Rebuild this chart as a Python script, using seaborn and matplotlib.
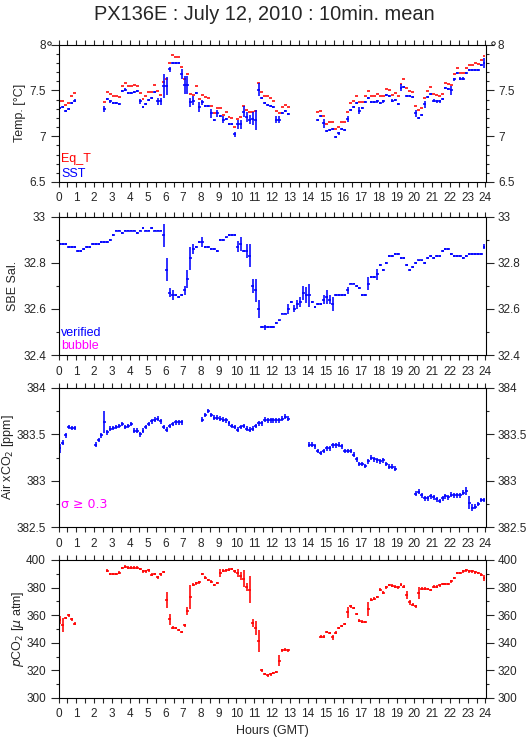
import numpy as np
import matplotlib
matplotlib.use('Agg')
import matplotlib.pyplot as plt
import seaborn as sns
from matplotlib.ticker import MultipleLocator, FuncFormatter
from matplotlib.lines import Line2D

nan = np.nan

# 10-minute means, one row per hour (6 slots each)
sst = [
    7.31, 7.32, 7.28, 7.30, 7.36, 7.39,
    nan, nan, nan, nan, nan, nan,
    nan, nan, nan, 7.30, 7.41, 7.38,
    7.36, 7.36, 7.35, 7.49, 7.51, 7.47,
    7.47, 7.48, 7.49, 7.38, 7.32, 7.35,
    7.40, 7.42, 7.48, 7.38, 7.38, 7.55,
    7.55, 7.73, 7.80, 7.80, 7.80, 7.68,
    7.56, 7.56, 7.37, 7.39, 7.47, 7.32,
    7.37, 7.33, 7.33, 7.25, 7.18, 7.25,
    7.22, 7.18, 7.19, 7.13, 7.13, 7.02,
    7.13, 7.13, 7.27, 7.21, 7.18, 7.19,
    7.18, 7.51, 7.42, 7.36, 7.34, 7.33,
    7.32, 7.18, 7.18, 7.25, 7.28, 7.24,
    nan, nan, nan, nan, nan, nan,
    nan, nan, nan, 7.18, 7.22, 7.14,
    7.06, 7.07, 7.08, 6.99, 7.03, 7.08,
    7.07, 7.19, 7.29, 7.32, 7.36, 7.28,
    7.31, 7.37, 7.42, 7.37, 7.37, 7.38,
    7.36, 7.38, 7.45, 7.44, 7.39, 7.40,
    7.35, 7.53, 7.54, 7.44, 7.44, 7.43,
    7.25, 7.20, 7.23, 7.35, 7.43, 7.46,
    7.39, 7.38, 7.38, 7.41, 7.53, 7.52,
    7.50, 7.62, 7.69, 7.63, 7.63, 7.69,
    7.72, 7.72, 7.72, 7.72, 7.78, 7.80,
]
sst_err_big = {15: 0.03, 27: 0.03, 33: 0.04, 34: 0.04, 35: 0.13, 36: 0.1, 37: 0.03,
               41: 0.05, 42: 0.1, 43: 0.1, 44: 0.05, 45: 0.05, 47: 0.05, 48: 0.03,
               51: 0.05, 53: 0.04, 55: 0.04, 59: 0.03, 60: 0.05, 61: 0.05, 62: 0.06,
               63: 0.05, 64: 0.05, 65: 0.07, 66: 0.11, 67: 0.07, 73: 0.04, 74: 0.04,
               89: 0.05, 97: 0.03, 101: 0.04, 115: 0.04, 120: 0.04, 123: 0.04,
               132: 0.05, 143: 0.06}

eq_t = [
    7.38, 7.39, 7.34, 7.36, 7.44, 7.47,
    nan, nan, nan, nan, nan, nan,
    nan, nan, nan, 7.37, 7.48, 7.46,
    7.44, 7.44, 7.43, 7.55, 7.58, 7.55,
    7.55, 7.56, 7.55, 7.47, 7.41, 7.44,
    7.48, 7.48, 7.56, 7.49, 7.45, 7.59,
    7.63, 7.80, 7.89, 7.87, 7.87, 7.76,
    7.63, 7.68, 7.46, 7.45, 7.55, 7.41,
    7.45, 7.43, 7.42, 7.33, 7.25, 7.31,
    7.31, 7.23, 7.26, 7.21, 7.20, 7.10,
    7.19, 7.21, 7.33, 7.29, 7.27, 7.27,
    7.28, 7.58, 7.48, 7.44, 7.44, 7.42,
    7.38, 7.28, 7.25, 7.32, 7.34, 7.32,
    nan, nan, nan, nan, nan, nan,
    nan, nan, nan, 7.26, 7.28, 7.22,
    7.13, 7.16, 7.16, 7.08, 7.10, 7.16,
    7.16, 7.26, 7.36, 7.39, 7.44, 7.37,
    7.37, 7.44, 7.49, 7.44, 7.44, 7.46,
    7.44, 7.44, 7.52, 7.50, 7.45, 7.47,
    7.44, 7.57, 7.62, 7.53, 7.49, 7.48,
    7.33, 7.29, 7.31, 7.42, 7.49, 7.54,
    7.46, 7.45, 7.44, 7.46, 7.58, 7.57,
    7.56, 7.68, 7.75, 7.69, 7.69, 7.75,
    7.78, 7.78, 7.80, 7.79, 7.83, 7.88,
]

sal = [
    32.88, 32.88, 32.88, 32.87, 32.87, 32.87,
    32.85, 32.85, 32.86, 32.87, 32.87, 32.88,
    32.88, 32.88, 32.89, 32.89, 32.89, 32.90,
    32.92, 32.94, 32.94, 32.93, 32.94, 32.94,
    32.94, 32.94, 32.93, 32.94, 32.95, 32.94,
    32.94, 32.95, 32.94, 32.94, 32.94, 32.92,
    32.77, 32.67, 32.66, 32.66, 32.65, 32.66,
    32.68, 32.73, 32.82, 32.86, 32.87, 32.89,
    32.89, 32.87, 32.87, 32.86, 32.86, 32.85,
    32.90, 32.90, 32.91, 32.92, 32.92, 32.92,
    32.87, 32.88, 32.85, 32.85, 32.83, 32.70,
    32.68, 32.60, 32.52, 32.52, 32.52, 32.52,
    32.52, 32.54, 32.55, 32.58, 32.58, 32.60,
    32.63, 32.60, 32.62, 32.63, 32.67, 32.66,
    32.66, 32.63, 32.61, 32.62, 32.62, 32.64,
    32.65, 32.64, 32.62, 32.66, 32.66, 32.66,
    32.66, 32.68, 32.71, 32.71, 32.70, 32.69,
    32.66, 32.66, 32.71, 32.74, 32.74, 32.75,
    32.79, 32.77, 32.80, 32.83, 32.83, 32.84,
    32.84, 32.82, 32.82, 32.79, 32.77, 32.78,
    32.80, 32.81, 32.81, 32.80, 32.82, 32.83,
    32.82, 32.83, 32.83, 32.85, 32.86, 32.86,
    32.84, 32.83, 32.83, 32.83, 32.82, 32.83,
    32.84, 32.84, 32.84, 32.84, 32.84, 32.87,
]
sal_err_big = {35: 0.05, 36: 0.05, 37: 0.02, 38: 0.02, 42: 0.02, 43: 0.04, 44: 0.05,
               45: 0.02, 48: 0.02, 60: 0.025, 61: 0.03, 63: 0.03, 64: 0.05, 65: 0.03,
               66: 0.05, 67: 0.04, 69: 0.01, 77: 0.02, 79: 0.015, 80: 0.02, 81: 0.02,
               82: 0.03, 83: 0.036, 84: 0.05, 89: 0.02, 90: 0.03, 91: 0.02, 92: 0.03,
               97: 0.015, 104: 0.027, 107: 0.023, 143: 0.01}

xco2 = [
    383.35, 383.41, 383.49, 383.58, 383.57, 383.57,
    nan, nan, nan, nan, nan, nan,
    383.39, 383.44, 383.49, 383.63, 383.52, 383.56,
    383.57, 383.58, 383.59, 383.61, 383.58, 383.59,
    383.61, 383.54, 383.54, 383.50, 383.54, 383.58,
    383.61, 383.64, 383.66, 383.67, 383.64, 383.58,
    383.55, 383.59, 383.61, 383.63, 383.63, 383.63,
    nan, nan, nan, nan, nan, nan,
    383.66, 383.71, 383.75, 383.71, 383.68, 383.68,
    383.67, 383.66, 383.65, 383.62, 383.59, 383.58,
    383.55, 383.58, 383.59, 383.56, 383.55, 383.56,
    383.59, 383.62, 383.62, 383.66, 383.65, 383.65,
    383.65, 383.65, 383.65, 383.67, 383.69, 383.67,
    nan, nan, nan, nan, nan, nan,
    383.39, 383.39, 383.37, 383.32, 383.30, 383.32,
    383.35, 383.35, 383.38, 383.38, 383.39, 383.37,
    383.32, 383.32, 383.32, 383.28, 383.23, 383.18,
    383.18, 383.16, 383.21, 383.25, 383.23, 383.22,
    383.21, 383.22, 383.18, 383.15, 383.15, 383.13,
    nan, nan, nan, nan, nan, nan,
    382.86, 382.88, 382.84, 382.81, 382.81, 382.83,
    382.82, 382.80, 382.78, 382.81, 382.83, 382.82,
    382.85, 382.84, 382.84, 382.84, 382.87, 382.89,
    382.76, 382.71, 382.72, 382.75, 382.79, 382.79,
]
xco2_err_big = {0: 0.05, 15: 0.12, 137: 0.04, 138: 0.07, 139: 0.04}

pco2 = [
    356.3, 352.7, 358.0, 360.0, 357.0, 353.9,
    nan, nan, nan, nan, nan, nan,
    nan, nan, nan, nan, 392.3, 389.9,
    389.9, 389.9, 390.8, 394.2, 395.2, 394.4,
    394.4, 394.4, 394.4, 393.5, 391.8, 391.8,
    392.5, 389.4, 389.9, 387.4, 389.6, 391.3,
    371.0, 357.2, 351.0, 350.7, 349.3, 347.8,
    352.7, 363.3, 373.2, 382.1, 383.1, 383.8,
    389.9, 387.2, 385.5, 384.3, 381.9, 383.3,
    390.6, 392.3, 392.5, 393.0, 393.5, 391.8,
    390.8, 388.2, 386.5, 380.2, 378.5, 354.3,
    350.7, 341.0, 320.0, 317.4, 316.4, 317.1,
    318.1, 318.8, 327.1, 334.5, 335.0, 334.5,
    nan, nan, nan, nan, nan, nan,
    nan, nan, nan, nan, 344.4, 344.4,
    347.8, 347.1, 344.0, 347.3, 350.7, 352.2,
    353.6, 362.3, 366.4, 365.2, 360.9, 356.0,
    355.3, 355.1, 364.3, 371.3, 372.0, 373.2,
    378.5, 376.3, 380.2, 381.9, 381.4, 380.7,
    380.2, 382.1, 380.7, 374.6, 369.3, 367.6,
    366.4, 376.1, 379.2, 379.2, 379.0, 378.3,
    380.7, 380.7, 381.6, 382.6, 382.6, 382.6,
    384.5, 387.0, 390.6, 390.6, 391.8, 392.5,
    391.8, 391.8, 391.1, 390.6, 389.4, 387.0,
]
pco2_err_big = {0: 3, 1: 5, 36: 6, 37: 4, 43: 3, 44: 9, 54: 3, 60: 3, 61: 3, 62: 6,
                63: 3, 64: 10, 65: 3, 66: 5, 67: 8, 74: 4, 92: 2, 97: 4, 104: 5,
                117: 3, 118: 2, 121: 4, 143: 2}

hours = np.arange(len(sst)) / 6 + 1 / 12


def err_array(default, big):
    e = np.full(len(hours), default)
    for k, v in big.items():
        e[k] = v
    return e


sns.set_style('ticks')
plt.rcParams['font.family'] = ['Liberation Sans', 'DejaVu Sans']
plt.rcParams['axes.linewidth'] = 0.8

BLUE = '#0000ff'
RED = '#ff0000'
MAG = '#ff00ff'

fig = plt.figure(figsize=(5.29, 7.39), dpi=100)
W, H = 529, 739
L, R = 58.5, 485.5


def make_ax(top, bottom):
    return fig.add_axes([L / W, 1 - bottom / H, (R - L) / W, (bottom - top) / H])


ax1 = make_ax(44.7, 182)
ax2 = make_ax(216.7, 355)
ax3 = make_ax(388, 527)
ax4 = make_ax(560, 698)

fmt = FuncFormatter(lambda v, p: '%g' % round(v, 3))

def style(ax, ylim, major, minor, top_lab, bot_lab):
    ax.set_xlim(0, 24)
    ax.set_ylim(*ylim)
    ax.xaxis.set_major_locator(MultipleLocator(1))
    ax.xaxis.set_minor_locator(MultipleLocator(0.5))
    ax.yaxis.set_major_locator(MultipleLocator(major))
    ax.yaxis.set_minor_locator(MultipleLocator(minor))
    ax.yaxis.set_major_formatter(fmt)
    ax.tick_params(axis='x', which='both', direction='out', length=3.5, width=0.8,
                   top=True, bottom=True, labeltop=top_lab, labelbottom=bot_lab,
                   labelsize=8.5, pad=4)
    ax.tick_params(axis='y', which='major', direction='out', length=6, width=0.8,
                   left=True, right=True, labelleft=True, labelright=True,
                   labelsize=8.5, pad=3)
    ax.tick_params(axis='y', which='minor', direction='out', length=2.5, width=0.8,
                   left=True, right=True)
    for s in ax.spines.values():
        s.set_color('black')


ebkw = dict(fmt='none', xerr=1 / 12, elinewidth=1.15, capsize=0)

# panel 1: temperatures
ax1.errorbar(hours, eq_t, ecolor=RED, **ebkw)
ax1.errorbar(hours, sst, yerr=err_array(0.012, sst_err_big), ecolor=BLUE, **ebkw)
style(ax1, (6.5, 8), 0.5, 0.1, False, True)
ax1.set_ylabel('Temp. [°C]', fontsize=9)
ax1.yaxis.set_label_coords(-0.075, 0.5)
ax1.text(0.006, 0.145, 'Eq_T', color=RED, fontsize=9, transform=ax1.transAxes)
ax1.text(0.006, 0.035, 'SST', color=BLUE, fontsize=9, transform=ax1.transAxes)

# panel 2: salinity
ax2.errorbar(hours, sal, yerr=err_array(0.004, sal_err_big), ecolor=BLUE, **ebkw)
style(ax2, (32.4, 33), 0.2, 0.1, False, False)
ax2.set_ylabel('SBE Sal.', fontsize=9)
ax2.yaxis.set_label_coords(-0.092, 0.5)
ax2.text(0.006, 0.14, 'verified', color=BLUE, fontsize=9, transform=ax2.transAxes)
ax2.text(0.006, 0.045, 'bubble', color=MAG, fontsize=9, transform=ax2.transAxes)

# panel 3: atmospheric xCO2
ax3.errorbar(hours, xco2, yerr=err_array(0.025, xco2_err_big), ecolor=BLUE, **ebkw)
style(ax3, (382.5, 384), 0.5, 0.25, True, False)
ax3.set_ylabel('Air xCO$_2$ [ppm]', fontsize=9)
ax3.yaxis.set_label_coords(-0.1, 0.5)
ax3.text(0.006, 0.14, 'σ ≥ 0.3', color=MAG, fontsize=9, transform=ax3.transAxes,
         family=['DejaVu Sans'])

# panel 4: pCO2
ax4.errorbar(hours, pco2, yerr=err_array(1.0, pco2_err_big), ecolor=RED, **ebkw)
style(ax4, (300, 400), 20, 10, True, True)
ax4.set_ylabel('$p$CO$_2$ [$\\mu$ atm]', fontsize=9)
ax4.yaxis.set_label_coords(-0.075, 0.5)
ax4.set_xlabel('Hours (GMT)', fontsize=9, labelpad=3)

fig.text(0.5, 1 - 14 / H, 'PX136E : July 12, 2010 : 10min. mean', ha='center',
         va='center', fontsize=14.4)
for cx in (49, 493):
    fig.add_artist(Line2D([cx / W], [1 - 43 / H], marker='o', markersize=2.5,
                          markerfacecolor='none', markeredgecolor='black',
                          markeredgewidth=0.6, transform=fig.transFigure))

fig.savefig('out.png', dpi=100)
